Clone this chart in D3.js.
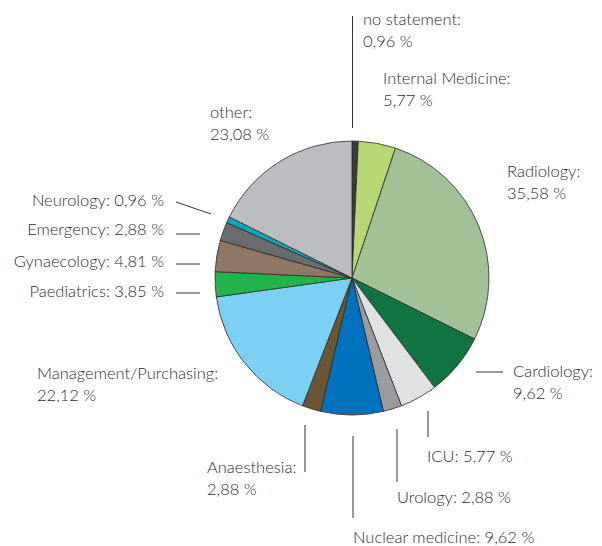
<!DOCTYPE html>
<html><head><meta charset="utf-8">
<script src="https://cdn.jsdelivr.net/npm/d3@7"></script>
<style>html,body{margin:0;padding:0;background:#fff;}</style>
</head><body>
<script>
const categories = ["no statement","Internal Medicine","Radiology","Cardiology","ICU","Urology","Nuclear medicine","Anaesthesia","Management/Purchasing","Paediatrics","Gynaecology","Emergency","Neurology","other"];
const values = [0.96,5.77,35.58,9.62,5.77,2.88,9.62,2.88,22.12,3.85,4.81,2.88,0.96,23.08];
const valueLabels = ["0,96 %","5,77 %","35,58 %","9,62 %","5,77 %","2,88 %","9,62 %","2,88 %","22,12 %","3,85 %","4,81 %","2,88 %","0,96 %","23,08 %"];
const colors = ["#3b3b3d","#b7d774","#a3c197","#0f7442","#e0e1e3","#9a9b9e","#0071bc","#6b5533","#7bd0f4","#22b34a","#8f7766","#6a6c6f","#0fa5bb","#bcbdc1"];

// layout of labels: [x, y(baseline first line), anchor, twoLines]
const labelLayout = [
  {x:363,y:25,anchor:"start",two:true, line:[[352.5,16],[352.5,128]]},
  {x:383,y:84,anchor:"start",two:true},
  {x:507,y:177,anchor:"start",two:true},
  {x:513,y:377,anchor:"start",two:true, line:[[476,372],[503,372]]},
  {x:427,y:462,anchor:"start",two:false, line:[[428,411],[428,437]]},
  {x:397,y:503,anchor:"start",two:false, line:[[397,429],[397,482]]},
  {x:353,y:543,anchor:"start",two:false, line:[[353,436],[353,518]]},
  {x:207,y:473,anchor:"start",two:true, line:[[305,425],[305,472]]},
  {x:37,y:379,anchor:"start",two:true},
  {x:164,y:297,anchor:"end",two:false, line:[[176,293],[200,293]]},
  {x:164,y:267,anchor:"end",two:false, line:[[176,264],[200,264]]},
  {x:164,y:235,anchor:"end",two:false, line:[[176,234],[200,234]]},
  {x:164,y:206,anchor:"end",two:false, line:[[176,202],[211,214]]},
  {x:210,y:118,anchor:"start",two:true}
];

const W=602,H=546, cx=352, cy=278, R=137;
const svg=d3.select("body").append("svg").attr("width",W).attr("height",H);
const data = categories.map((c,i)=>({name:c,value:values[i],label:valueLabels[i],color:colors[i],lay:labelLayout[i]}));
const pie=d3.pie().value(d=>d.value).sort(null);
const arc=d3.arc().innerRadius(0).outerRadius(R);
const g=svg.append("g").attr("transform",`translate(${cx},${cy})`);
g.selectAll("path").data(pie(data)).join("path")
  .attr("d",arc).attr("fill",d=>d.data.color)
  .attr("stroke","#2b2b2b").attr("stroke-width",0.8).attr("stroke-linejoin","round");

const lg=svg.append("g");
data.forEach(d=>{
  const L=d.lay;
  if(L.line){
    lg.append("line").attr("x1",L.line[0][0]).attr("y1",L.line[0][1]).attr("x2",L.line[1][0]).attr("y2",L.line[1][1])
      .attr("stroke","#333").attr("stroke-width",1);
  }
  const t=lg.append("text").attr("x",L.x).attr("y",L.y).attr("text-anchor",L.anchor)
    .attr("font-family","Lato, 'Open Sans', sans-serif").attr("font-weight",300).attr("font-size",16.5).attr("fill","#2e2e2e");
  if(L.two){
    t.append("tspan").attr("x",L.x).text(d.name+":");
    t.append("tspan").attr("x",L.x).attr("dy",22).text(d.label);
  } else {
    t.text(d.name+": "+d.label);
  }
});
</script>
</body></html>
